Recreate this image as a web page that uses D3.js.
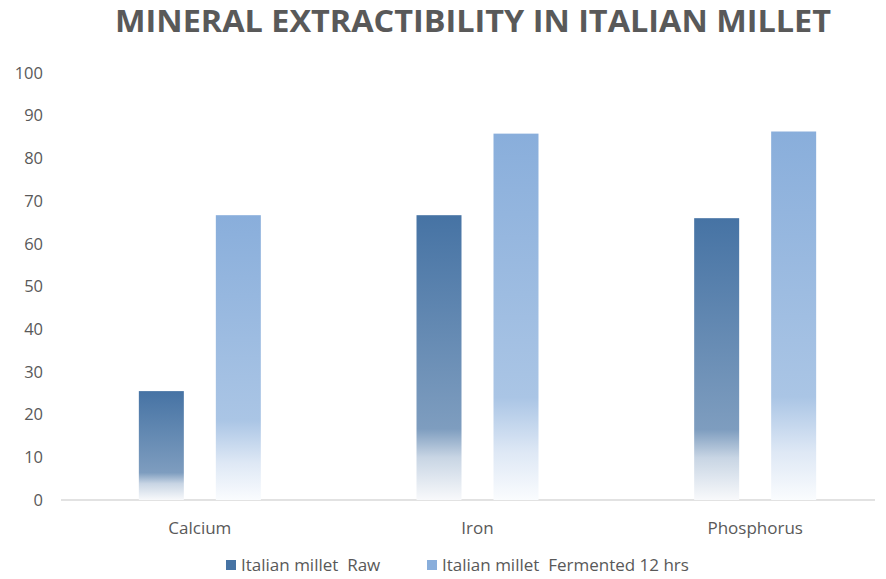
<!DOCTYPE html>
<html>
<head>
<meta charset="utf-8">
<script src="https://cdn.jsdelivr.net/npm/d3@7"></script>
<style>
  body { margin: 0; background: #fff; }
  text { font-family: "Open Sans", "Noto Sans", sans-serif; fill: #595959; }
</style>
</head>
<body>
<div id="chart"></div>
<script>
var width = 886,
	height = 579;

var categories = ["Calcium", "Iron", "Phosphorus"];
var series = ["Italian millet  Raw", "Italian millet  Fermented 12 hrs"];
var raw = [25.5, 66.7, 66];
var fermented = [66.7, 85.8, 86.3];
var yTicks = [0, 10, 20, 30, 40, 50, 60, 70, 80, 90, 100];
var colors = ["#4673a4", "#89aedb"];

var margin = {top: 73, right: -8, bottom: 79, left: 61};

var svg = d3.select("#chart").append("svg")
	.attr("width", width)
	.attr("height", height);

// gradients: fairly solid most of the way down, then a quick fade to white
var defs = svg.append("defs");
var stops = [
	[[0, 0], [0.75, 0.3], [0.85, 0.7], [1, 0.96]],
	[[0, 0], [0.72, 0.28], [0.87, 0.72], [1, 0.96]]
];
colors.forEach(function(c, i) {
	var g = defs.append("linearGradient")
		.attr("id", "grad" + i)
		.attr("x1", 0).attr("y1", 0).attr("x2", 0).attr("y2", 1);
	var light = d3.interpolateRgb(c, "#ffffff");
	stops[i].forEach(function(s) {
		g.append("stop")
			.attr("offset", (s[0] * 100) + "%")
			.attr("stop-color", light(s[1]));
	});
});

var x = d3.scaleBand()
	.domain(categories)
	.range([margin.left, width - margin.right]);

var x1 = d3.scaleBand()
	.domain([0, 1])
	.range([0, x.bandwidth()])
	.paddingInner(0.4156)
	.paddingOuter(1.011);

var y = d3.scaleLinear()
	.domain([0, 100])
	.range([height - margin.bottom, margin.top]);

// title
svg.append("text")
	.attr("x", 473)
	.attr("y", 32)
	.attr("text-anchor", "middle")
	.attr("textLength", 716)
	.attr("lengthAdjust", "spacingAndGlyphs")
	.style("font-size", "31px")
	.style("font-weight", "bold")
	.text("MINERAL EXTRACTIBILITY IN ITALIAN MILLET");

// y axis labels
var yAxis = svg.append("g")
	.attr("transform", "translate(43,0)")
	.call(d3.axisLeft(y).tickValues(yTicks).tickSize(0).tickPadding(0));
yAxis.select(".domain").remove();
yAxis.selectAll("text")
	.style("font-size", "16.5px")
	.style("fill", "#595959");

// baseline
svg.append("line")
	.attr("x1", margin.left)
	.attr("x2", 875)
	.attr("y1", y(0))
	.attr("y2", y(0))
	.attr("stroke", "#d9d9d9")
	.attr("stroke-width", 1.5);

// x axis labels
var xAxis = svg.append("g")
	.attr("transform", "translate(0," + (y(0) + 10) + ")")
	.call(d3.axisBottom(x).tickSize(0).tickPadding(12));
xAxis.select(".domain").remove();
xAxis.selectAll("text")
	.style("font-size", "17px")
	.style("fill", "#595959");

// bars
var data = categories.map(function(c, i) {
	return {cat: c, vals: [raw[i], fermented[i]]};
});

var groups = svg.selectAll(".grp")
	.data(data)
	.enter().append("g")
	.attr("class", "grp")
	.attr("transform", function(d) { return "translate(" + x(d.cat) + ",0)"; });

groups.selectAll("rect")
	.data(function(d) { return d.vals; })
	.enter().append("rect")
	.attr("x", function(d, i) { return x1(i); })
	.attr("width", x1.bandwidth())
	.attr("y", function(d) { return y(d); })
	.attr("height", function(d) { return y(0) - y(d); })
	.attr("fill", function(d, i) { return "url(#grad" + i + ")"; });

// legend
var legendX = [226, 427];
var legend = svg.selectAll(".leg")
	.data(series)
	.enter().append("g")
	.attr("class", "leg")
	.attr("transform", function(d, i) { return "translate(" + legendX[i] + ",565)"; });

legend.append("rect")
	.attr("x", 0)
	.attr("y", -5)
	.attr("width", 10)
	.attr("height", 10)
	.attr("fill", function(d, i) { return colors[i]; });

legend.append("text")
	.attr("x", 15)
	.attr("y", 6)
	.style("font-size", "17px")
	.style("white-space", "pre")
	.attr("xml:space", "preserve")
	.text(function(d) { return d; });
</script>
</body>
</html>
